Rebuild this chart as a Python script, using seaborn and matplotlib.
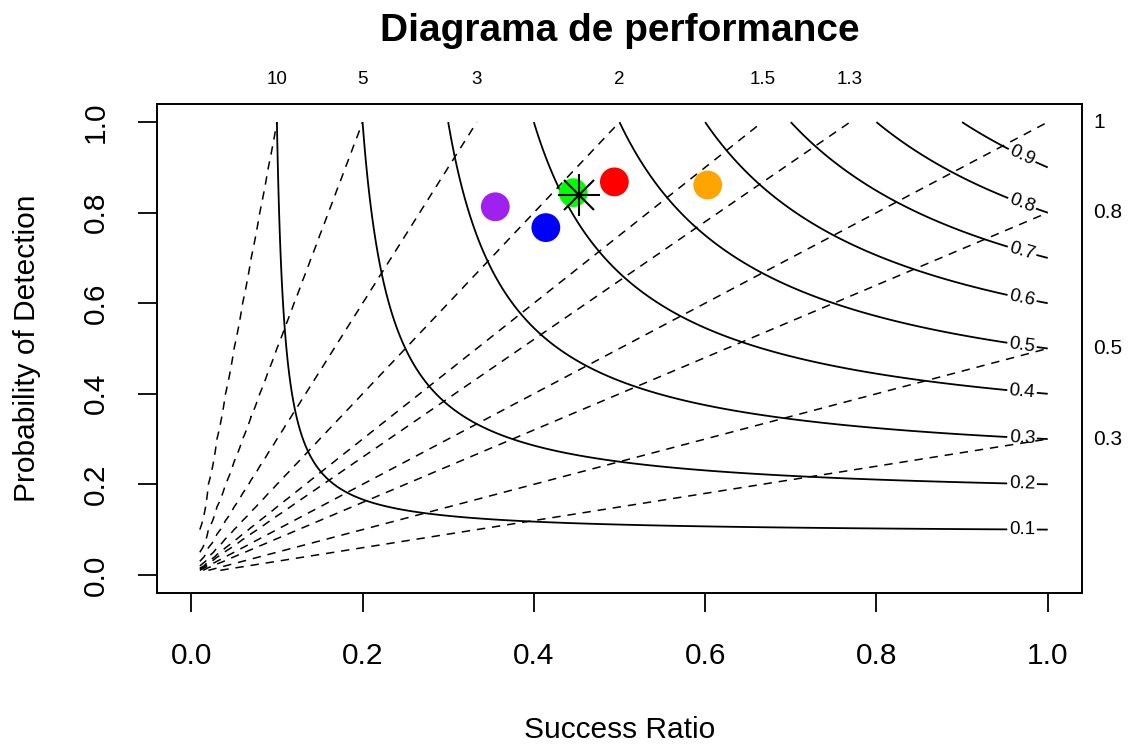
import numpy as np
import pandas as pd
import matplotlib
matplotlib.use("Agg")
import matplotlib.pyplot as plt
import matplotlib.transforms as mtransforms
import seaborn as sns

# ---- data ----
models = ["A", "B", "C", "D", "E"]
success_ratio = [0.355, 0.414, 0.446, 0.494, 0.603]
pod = [0.813, 0.767, 0.844, 0.868, 0.861]
point_colors = ["#A020F0", "#0000FF", "#00FF00", "#FF0000", "#FFA500"]
star_sr = [0.453]
star_pod = [0.839]
csi_levels = [0.1, 0.2, 0.3, 0.4, 0.5, 0.6, 0.7, 0.8, 0.9]
bias_levels = [0.3, 0.5, 0.8, 1, 1.3, 1.5, 2, 3, 5, 10]
top_bias_labels = ["10", "5", "3", "2", "1.5", "1.3"]
top_bias_values = [10, 5, 3, 2, 1.5, 1.3]
right_bias_labels = ["1", "0.8", "0.5", "0.3"]
right_bias_values = [1, 0.8, 0.5, 0.3]
xticks = [0.0, 0.2, 0.4, 0.6, 0.8, 1.0]
yticks = [0.0, 0.2, 0.4, 0.6, 0.8, 1.0]

sns.set_style("white")
plt.rcParams["font.family"] = ["Liberation Sans", "DejaVu Sans"]
plt.rcParams["text.color"] = "black"
plt.rcParams["axes.labelcolor"] = "black"
plt.rcParams["xtick.color"] = "black"
plt.rcParams["ytick.color"] = "black"

fig = plt.figure(figsize=(11.29, 7.47), dpi=100)
ax = fig.add_axes([157 / 1129, 1 - 593 / 747, 925 / 1129, 489 / 747])

# grids
g = np.linspace(0.005, 1.0, 400)
SR, POD = np.meshgrid(g, g)
CSI = 1.0 / (1.0 / SR + 1.0 / POD - 1.0)
gb = np.linspace(0.01, 1.0, 100)
SRb, PODb = np.meshgrid(gb, gb)
BIAS = PODb / SRb

# bias lines (dashed)
bl = ax.contour(SRb, PODb, BIAS, levels=bias_levels, colors="black",
                linewidths=1.1)
bl.set_linestyle((0, (5.5, 4.5)))

# CSI contours
cs = ax.contour(SR, POD, CSI, levels=csi_levels, colors="black", linewidths=1.3)
label_pos = []
for lv in csi_levels:
    x = 0.97
    y = 1.0 / (1.0 / lv + 1.0 - 1.0 / x)
    label_pos.append((x, y))
ax.clabel(cs, inline=True, inline_spacing=3, fontsize=13.5, fmt="%.1f",
          manual=label_pos)

# points
df = pd.DataFrame({"sr": success_ratio, "pod": pod, "model": models})
sns.scatterplot(data=df, x="sr", y="pod", hue="model", palette=point_colors,
                s=430, edgecolor="none", legend=False, ax=ax, zorder=5)
ax.plot(star_sr, star_pod, marker="+", markersize=30, mew=1.5, color="black",
        linestyle="none", zorder=6)
ax.plot(star_sr, star_pod, marker="x", markersize=22, mew=1.5, color="black",
        linestyle="none", zorder=6)

# axes
ax.set_xlim(-0.04, 1.04)
ax.set_ylim(-0.04, 1.04)
ax.set_xticks(xticks)
ax.set_yticks(yticks)
ax.set_xticklabels([f"{t:.1f}" for t in xticks])
ax.set_yticklabels([f"{t:.1f}" for t in yticks], rotation=90, va="center")
ax.tick_params(axis="both", direction="out", length=14, width=1.3,
               labelsize=21.5, colors="black", bottom=True, left=True)
ax.tick_params(axis="x", pad=21)
ax.tick_params(axis="y", pad=20)
for sp in ax.spines.values():
    sp.set_linewidth(1.4)
    sp.set_color("black")

ax.set_xlabel("Success Ratio", fontsize=21.5)
ax.xaxis.set_label_coords(0.5, -(730 - 593) / 489)
ax.xaxis.label.set_va("center")
ax.set_ylabel("Probability of Detection", fontsize=21.5)
ax.yaxis.set_label_coords((27 - 157) / 925, 0.5)
ax.yaxis.label.set_va("center")

ax.set_title("Diagrama de performance", fontsize=28, fontweight="bold",
             y=1 + (104 - 31) / 489, va="center", pad=0)

# bias labels
trans_top = mtransforms.blended_transform_factory(ax.transData, ax.transAxes)
for lab, b in zip(top_bias_labels, top_bias_values):
    ax.text(1.0 / b, 1 + 24 / 489, lab, transform=trans_top, ha="center",
            va="center", fontsize=13.5)
trans_right = mtransforms.blended_transform_factory(ax.transAxes, ax.transData)
for lab, b in zip(right_bias_labels, right_bias_values):
    ax.text(1 + 11 / 925, b, lab, transform=trans_right, ha="left",
            va="center", fontsize=15)

fig.savefig("out.png", dpi=100)
